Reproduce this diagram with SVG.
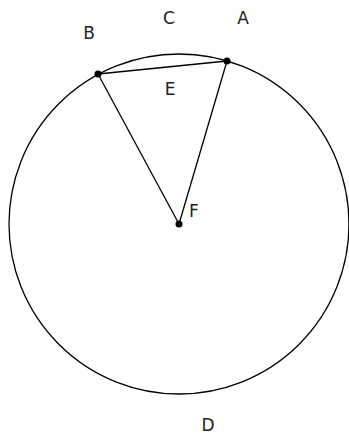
<svg xmlns="http://www.w3.org/2000/svg" width="349" height="437" viewBox="0 0 349 437">
<style>
.l{fill:none;stroke:#000;stroke-width:1.3}
.p{fill:#000}
text{font-family:"DejaVu Sans",sans-serif;font-size:17px;fill:#222;text-anchor:middle}
</style>
<rect width="349" height="437" fill="#fff"/>
<g id="circle"><circle class="l" cx="179" cy="224" r="170"/></g>
<g id="connectors">
<line class="l" x1="98" y1="74" x2="227" y2="61"/>
<line class="l" x1="98" y1="74" x2="179" y2="224"/>
<line class="l" x1="227" y1="61" x2="179" y2="224"/>
</g>
<g id="B"><circle class="p" cx="98" cy="74" r="3.5"/><text x="89" y="39">B</text></g>
<g id="A"><circle class="p" cx="227" cy="61" r="3.5"/><text x="243" y="24">A</text></g>
<g id="F"><circle class="p" cx="179" cy="224" r="3.5"/><text x="194" y="217">F</text></g>
<g id="C"><text x="169" y="24">C</text></g>
<g id="E"><text x="170" y="95">E</text></g>
<g id="D"><text x="208" y="431">D</text></g>
</svg>
